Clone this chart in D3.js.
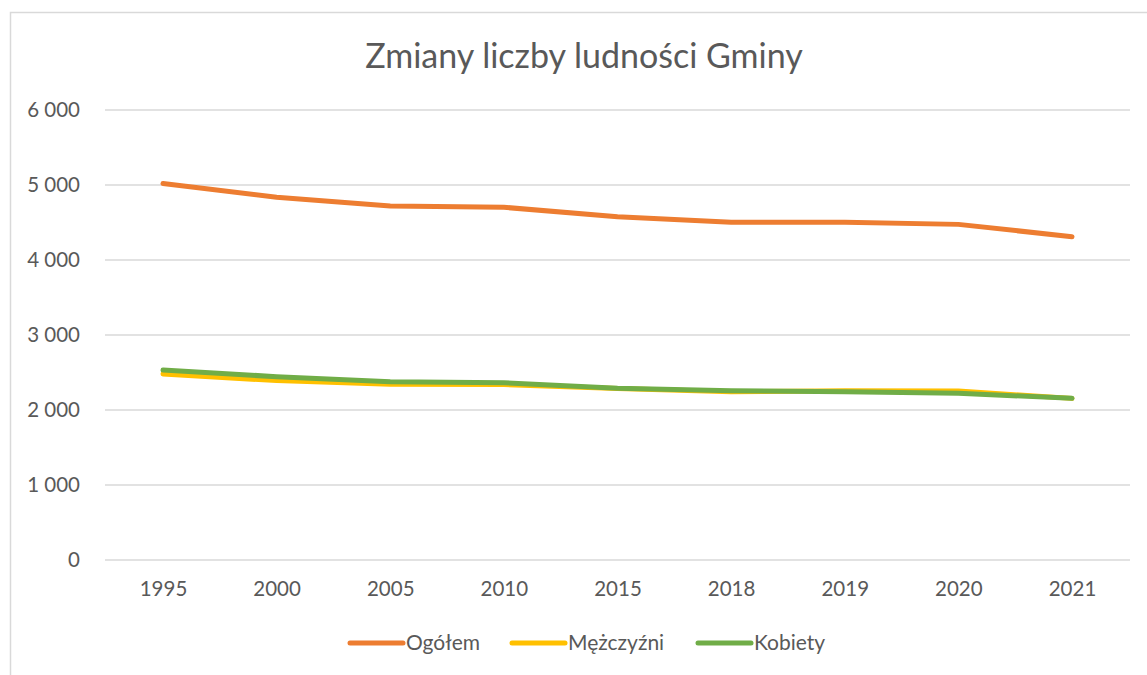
<!DOCTYPE html>
<html><head><meta charset="utf-8">
<script src="https://cdn.jsdelivr.net/npm/d3@7"></script>
<style>body{margin:0;background:#fff;} text{font-family:Lato,"Open Sans",sans-serif;fill:#595959;}</style>
</head><body>
<svg id="c" width="1147" height="675"></svg>
<script>
const categories = ["1995","2000","2005","2010","2015","2018","2019","2020","2021"];
const ogolem     = [5020,4836,4720,4703,4577,4502,4502,4475,4311];
const mezczyzni  = [2480,2392,2342,2339,2288,2244,2258,2253,2155];
const kobiety    = [2533,2444,2378,2364,2289,2258,2244,2222,2156];
const yTicks     = [0,1000,2000,3000,4000,5000,6000];
const seriesNames = ["Ogółem","Mężczyźni","Kobiety"];
const seriesColors = ["#ED7D31","#FFC000","#70AD47"];
const title = "Zmiany liczby ludności Gminy";

const svg = d3.select("#c");
// chart border
svg.append("path").attr("d","M10.5,675 L10.5,12.5 L1147,12.5").attr("fill","none").attr("stroke","#D9D9D9").attr("stroke-width",1.5);

const x = d3.scalePoint().domain(categories).range([163,1072]);
const y = d3.scaleLinear().domain([0,6000]).range([560,110]);
const fmt = v => d3.format(",")(v).replace(/,/g," ");

// gridlines
svg.append("g").selectAll("line").data(yTicks).join("line")
  .attr("x1",105).attr("x2",1130).attr("y1",d=>y(d)).attr("y2",d=>y(d))
  .attr("stroke","#D9D9D9").attr("stroke-width",1.5);

// y axis
const ya = svg.append("g").attr("transform","translate(80,0)")
  .call(d3.axisLeft(y).tickValues(yTicks).tickFormat(fmt).tickSize(0).tickPadding(0));
ya.select(".domain").remove();
ya.selectAll("text").attr("font-size",20.5).attr("fill","#595959").style("font-family","Lato");

// x axis
const xa = svg.append("g").attr("transform","translate(0,581)")
  .call(d3.axisBottom(x).tickSize(0).tickPadding(0));
xa.select(".domain").remove();
xa.selectAll("text").attr("font-size",20.5).attr("fill","#595959").attr("dy","0.71em").style("font-family","Lato");

// title
svg.append("text").attr("x",584).attr("y",68).attr("text-anchor","middle")
  .attr("font-size",34).text(title);

const series = [ogolem, mezczyzni, kobiety];
const line = d3.line().x((d,i)=>x(categories[i])).y(d=>y(d));
series.forEach((s,k)=>{
  svg.append("path").datum(s).attr("d",line).attr("fill","none")
    .attr("stroke",seriesColors[k]).attr("stroke-width",5)
    .attr("stroke-linecap","round").attr("stroke-linejoin","round");
});

// legend
const legX = [348,510,696];
seriesNames.forEach((n,k)=>{
  const g = svg.append("g");
  g.append("line").attr("x1",legX[k]+2).attr("x2",legX[k]+55).attr("y1",643).attr("y2",643)
    .attr("stroke",seriesColors[k]).attr("stroke-width",5).attr("stroke-linecap","round");
  g.append("text").attr("x",legX[k]+58).attr("y",643).attr("dy","0.35em").attr("font-size",21).text(n);
});
</script>
</body></html>
